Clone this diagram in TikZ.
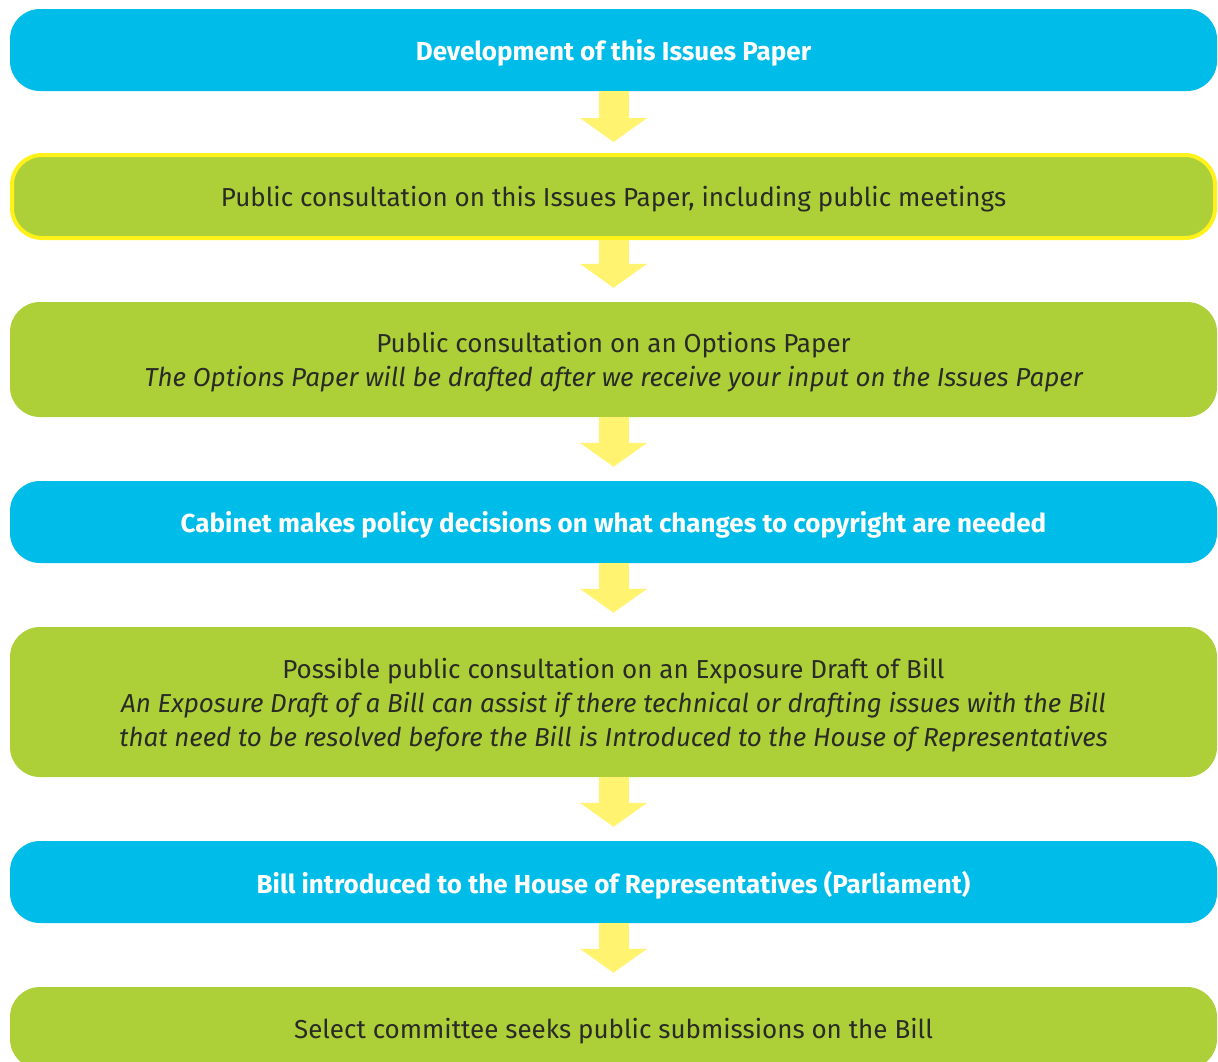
\documentclass[tikz,border=0pt]{standalone}
\usepackage{fontspec}
\setmainfont{Fira Sans}
\usetikzlibrary{arrows.meta}
\definecolor{cblue}{HTML}{00BCE8}
\definecolor{cgreen}{HTML}{ADD038}
\definecolor{cyel}{HTML}{FFF36F}
\definecolor{cborder}{HTML}{FFF21A}
\definecolor{ctext}{HTML}{2A2A26}
\tikzset{
  box/.style={rounded corners=30pt, minimum width=1207pt, inner sep=0pt},
  bluebox/.style={box, fill=cblue},
  greenbox/.style={box, fill=cgreen},
  txt/.style={inner sep=0pt, align=center, text=ctext, font=\fontsize{26}{34}\selectfont},
  wtxt/.style={txt, text=white, font=\fontsize{26}{34}\selectfont\bfseries},
  arr/.style={draw=cyel, line width=30pt, -{Triangle[length=24pt 0 0, width=66pt 0 0]}}
}
\begin{document}
\begin{tikzpicture}[x=1pt, y=-1pt]
\useasboundingbox (0,0) rectangle (1218,1061);
\clip (0,0) rectangle (1218,1061);
\node[bluebox, minimum height=82pt] (b1) at (613.5,50) {};
\node[greenbox, draw=cborder, line width=4pt, minimum width=1203pt, minimum height=83pt] (b2) at (613.5,196.5) {};
\node[greenbox, minimum height=115pt] (b3) at (613.5,359.5) {};
\node[bluebox, minimum height=82pt] (b4) at (613.5,522) {};
\node[greenbox, minimum height=150pt] (b5) at (613.5,702) {};
\node[bluebox, minimum height=82pt] (b6) at (613.5,882) {};
\node[greenbox, minimum height=82pt] (b7) at (613.5,1028) {};
\node[wtxt] (t1) at ([yshift=-3pt]b1.center) {Development of this Issues Paper};
\node[txt] (t2) at ([yshift=-3pt]b2.center) {Public consultation on this Issues Paper, including public meetings};
\node[txt] (t3) at ([yshift=-3pt]b3.center) {Public consultation on an Options Paper\\\itshape The Options Paper will be drafted after we receive your input on the Issues Paper};
\node[wtxt] (t4) at ([yshift=-3pt]b4.center) {Cabinet makes policy decisions on what changes to copyright are needed};
\node[txt] (t5) at ([yshift=-3pt]b5.center) {Possible public consultation on an Exposure Draft of Bill\\\itshape An Exposure Draft of a Bill can assist if there technical or drafting issues with the Bill\\\itshape that need to be resolved before the Bill is Introduced to the House of Representatives};
\node[wtxt] (t6) at ([yshift=-3pt]b6.center) {Bill introduced to the House of Representatives (Parliament)};
\node[txt] (t7) at ([yshift=-3pt]b7.center) {Select committee seeks public submissions on the Bill};
\draw[arr] (b1.south) -- ([yshift=11pt]b2.north);
\draw[arr] (b2.south) -- ([yshift=14pt]b3.north);
\draw[arr] (b3.south) -- ([yshift=14pt]b4.north);
\draw[arr] (b4.south) -- ([yshift=14pt]b5.north);
\draw[arr] (b5.south) -- ([yshift=14pt]b6.north);
\draw[arr] (b6.south) -- ([yshift=14pt]b7.north);
\end{tikzpicture}
\end{document}
